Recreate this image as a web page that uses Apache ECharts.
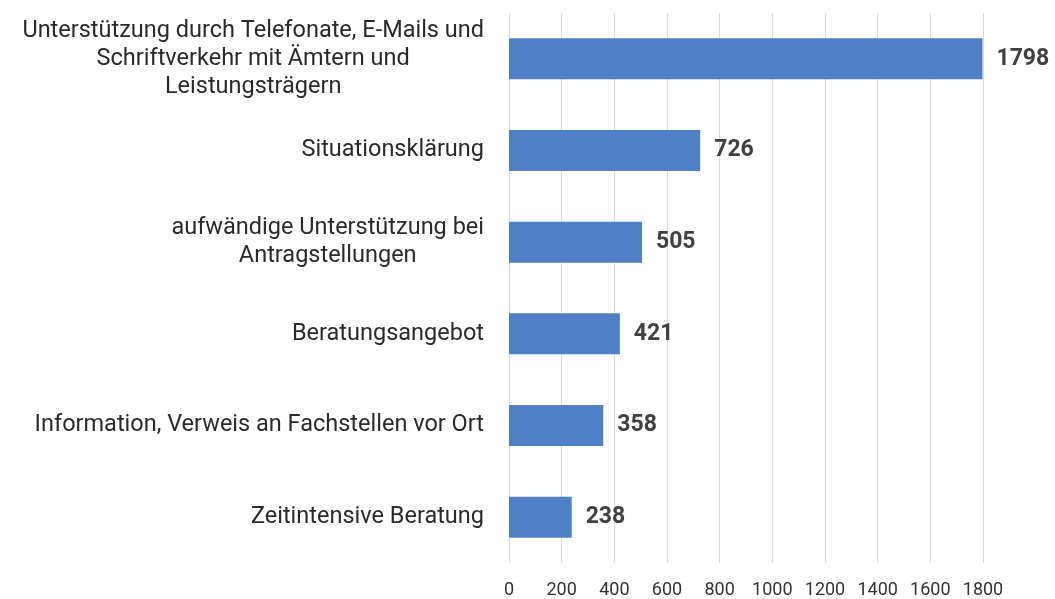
<!DOCTYPE html>
<html>
<head>
<meta charset="utf-8">
<script src="https://cdn.jsdelivr.net/npm/echarts@6/dist/echarts.min.js"></script>
<style>
  html, body { margin: 0; padding: 0; background: #fff; }
  #chart { width: 1055px; height: 599px; }
</style>
</head>
<body>
<div id="chart"></div>
<script>
// Kategorien (von oben nach unten)
const categories = [
  'Unterstützung durch Telefonate, E-Mails und\nSchriftverkehr mit Ämtern und\nLeistungsträgern',
  'Situationsklärung',
  'aufwändige Unterstützung bei\nAntragstellungen',
  'Beratungsangebot',
  'Information, Verweis an Fachstellen vor Ort',
  'Zeitintensive Beratung'
];
const values = [1798, 726, 505, 421, 358, 238];
const xTicks = [0, 200, 400, 600, 800, 1000, 1200, 1400, 1600, 1800];

const chart = echarts.init(document.getElementById('chart'));
chart.setOption({
  animation: false,
  grid: { left: 509, right: 72, top: 13, bottom: 35 },
  xAxis: {
    type: 'value',
    min: xTicks[0],
    max: xTicks[xTicks.length - 1],
    interval: 200,
    axisLine: { show: false },
    axisTick: { show: false },
    splitLine: { show: true, lineStyle: { color: '#d9d9d9', width: 1 } },
    axisLabel: {
      color: '#333',
      fontFamily: 'Roboto',
      fontSize: 18,
      margin: 18,
      formatter: v => String(v)
    }
  },
  yAxis: {
    type: 'category',
    inverse: true,
    data: categories,
    axisLine: { show: false },
    axisTick: { show: false },
    axisLabel: {
      margin: 25,
      lineHeight: 28,
      formatter: v => v.split('\n').map(s => '{a|' + s + '}').join('\n'),
      rich: {
        a: { align: 'center', color: '#2a2a2a', fontFamily: 'Roboto', fontSize: 23.5, lineHeight: 28 }
      }
    }
  },
  series: [{
    type: 'bar',
    data: values,
    barWidth: 41,
    itemStyle: { color: '#4f7fc4' },
    label: {
      show: true,
      position: 'right',
      distance: 14,
      color: '#404040',
      fontFamily: 'Roboto',
      fontWeight: 'bold',
      fontSize: 23
    }
  }]
});
</script>
</body>
</html>
